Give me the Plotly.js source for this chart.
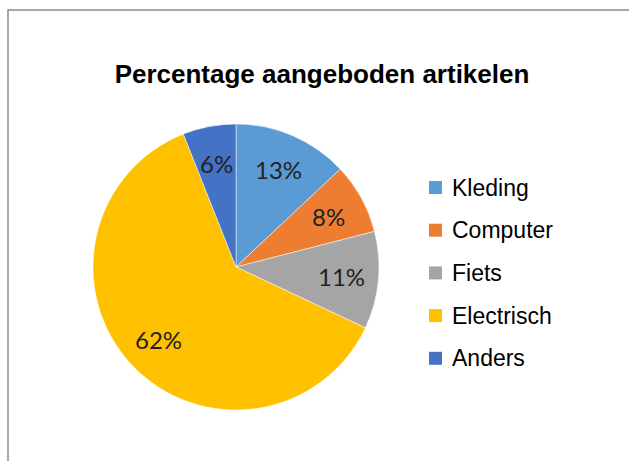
<!DOCTYPE html>
<html>
<head>
<meta charset="utf-8">
<script src="https://cdn.plot.ly/plotly-3.0.1.min.js"></script>
<style>html,body{margin:0;padding:0;background:#fff;}#chart{width:629px;height:461px;}</style>
</head>
<body>
<div id="chart"></div>
<script>
const categories = ["Kleding", "Computer", "Fiets", "Electrisch", "Anders"];
const values = [13, 8, 11, 62, 6];
const colors = ["#5B9BD5", "#ED7D31", "#A5A5A5", "#FFC000", "#4472C4"];
const titleText = "Percentage aangeboden artikelen";

const W = 629, H = 461;
const px = x => x / W;
const py = y => 1 - y / H;

// pie placement (pixels)
const cx = 236, cy0 = 267, R = 143;

const shapes = [{
  type: "rect", xref: "paper", yref: "paper",
  x0: px(8), x1: px(660), y0: py(480), y1: py(10),
  line: {color: "#8c8c8c", width: 1.5}, fillcolor: "rgba(0,0,0,0)"
}];
const annotations = [];

// legend built from categories / colors
const legX = 429, legY0 = 187.5, legStep = 42.7, sq = 13;
categories.forEach((c, i) => {
  const yy = legY0 + i * legStep;
  shapes.push({
    type: "rect", xref: "paper", yref: "paper",
    x0: px(legX), x1: px(legX + sq), y0: py(yy + sq / 2), y1: py(yy - sq / 2),
    line: {width: 0}, fillcolor: colors[i]
  });
  annotations.push({
    xref: "paper", yref: "paper", x: px(legX + sq + 8), y: py(yy),
    xanchor: "left", yanchor: "middle", showarrow: false, text: c,
    font: {family: "Liberation Sans, Arial, sans-serif", size: 23, color: "#000"}
  });
});

// data labels, placed at ~0.74 of the radius at each slice's mid-angle
const total = values.reduce((a, b) => a + b, 0);
let cum = 0;
values.forEach((v, i) => {
  const mid = (cum + v / 2) / total * 2 * Math.PI;
  cum += v;
  const f = 0.74;
  const lx = cx + f * R * Math.sin(mid);
  const ly = cy0 - f * R * Math.cos(mid);
  annotations.push({
    xref: "paper", yref: "paper", x: px(lx), y: py(ly),
    xanchor: "center", yanchor: "middle", showarrow: false,
    text: Math.round(v / total * 100) + "%",
    font: {family: "Lato, Noto Sans, sans-serif", size: 24, color: "#222"}
  });
});

const trace = {
  type: "pie",
  labels: categories,
  values: values,
  sort: false,
  direction: "clockwise",
  rotation: 0,
  marker: {colors: colors, line: {color: "#ffffff", width: 0.5}},
  textinfo: "none",
  hoverinfo: "none",
  showlegend: false,
  domain: {x: [px(cx - R), px(cx + R)], y: [py(cy0 + R), py(cy0 - R)]}
};

const layout = {
  width: W, height: H,
  margin: {l: 0, r: 0, t: 0, b: 0},
  paper_bgcolor: "#ffffff",
  showlegend: false,
  title: {
    text: "<b>" + titleText + "</b>",
    x: px(322), xanchor: "center", y: py(74), yanchor: "middle",
    font: {family: "Liberation Sans Narrow, Arial Narrow, Liberation Sans, sans-serif", size: 26, color: "#000"}
  },
  shapes: shapes,
  annotations: annotations
};

Plotly.newPlot("chart", [trace], layout, {displayModeBar: false, staticPlot: true});
</script>
</body>
</html>
